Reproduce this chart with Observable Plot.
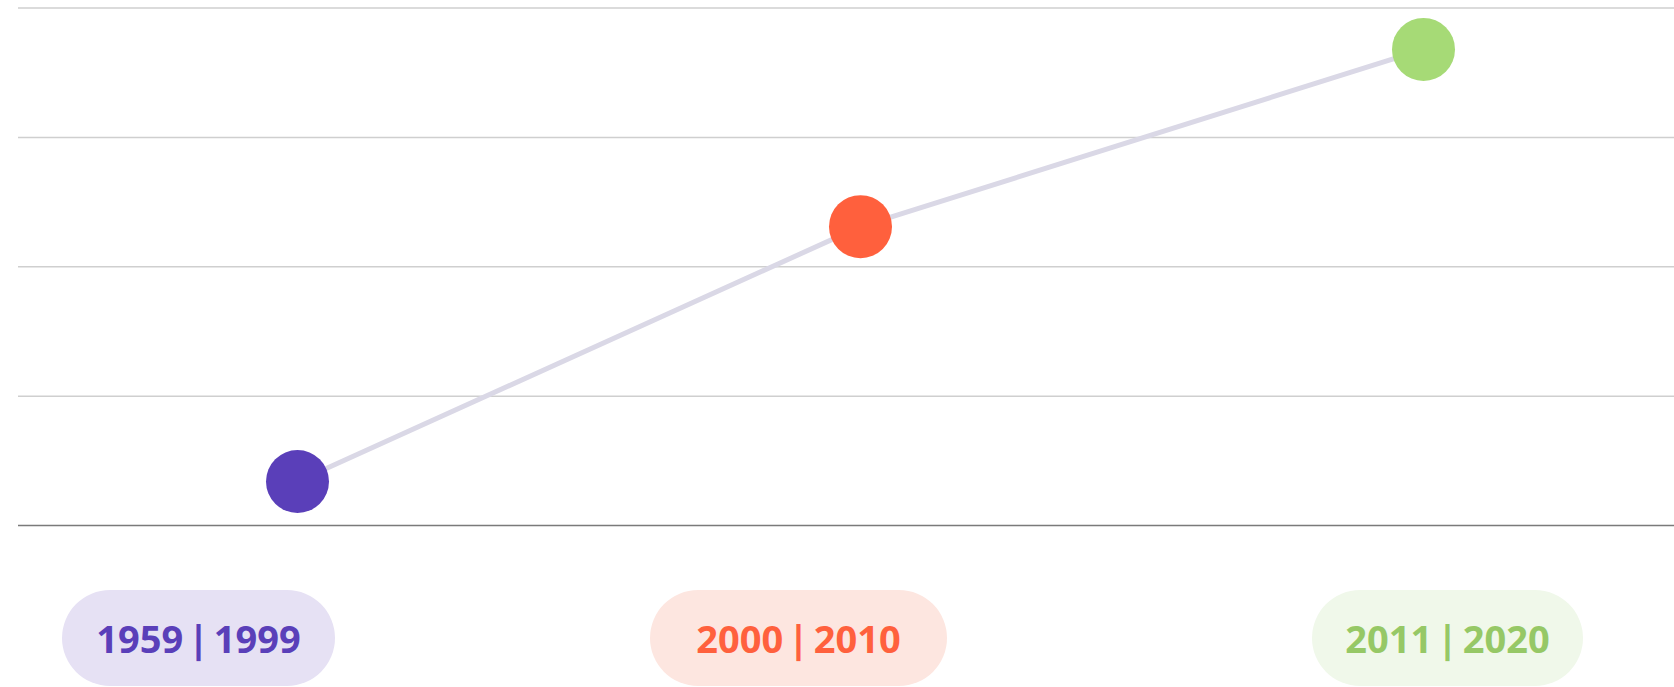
<!DOCTYPE html>
<html>
<head>
<meta charset="utf-8">
<script src="https://cdn.jsdelivr.net/npm/d3@7"></script>
<script src="https://cdn.jsdelivr.net/npm/@observablehq/plot@0.6"></script>
<style>
  html, body { margin: 0; padding: 0; background: #fff; width: 1674px; height: 687px; overflow: hidden; }
  #chart svg { display: block; }
  #pills { position: relative; height: 97px; width: 1674px; }
  .pill { position: absolute; top: 0; height: 96px; border-radius: 48px; display: flex; align-items: center; justify-content: center;
          font-family: "Open Sans", sans-serif; font-weight: 700; font-size: 38px; word-spacing: -5px; white-space: nowrap; }
</style>
</head>
<body>
<div id="chart"></div>
<div id="pills"></div>
<script>
const periods = ["1959 | 1999", "2000 | 2010", "2011 | 2020"];
const values = [34, 231, 368];
const dotColors = ["#5a3fb9", "#ff603d", "#a6da76"];
const textColors = ["#5a3fb9", "#ff603d", "#96c866"];
const pillColors = ["#e6e1f4", "#fde6e0", "#f0f8ea"];
const gridTicks = [100, 200, 300, 400];

const data = periods.map((p, i) => ({period: p, value: values[i], color: dotColors[i]}));

const chart = Plot.plot({
  width: 1674,
  height: 590,
  marginLeft: 18,
  marginRight: 0,
  marginTop: 7.5,
  marginBottom: 65,
  x: {type: "point", domain: periods, range: [296, 1423], padding: 0, axis: null},
  y: {domain: [0, 400], axis: null},
  marks: [
    Plot.ruleY(gridTicks, {stroke: "#cfcfcf", strokeWidth: 1.5}),
    Plot.ruleY([0], {stroke: "#7a7a7a", strokeWidth: 1.5}),
    Plot.line(data, {x: "period", y: "value", stroke: "#dad8e6", strokeWidth: 5}),
    Plot.dot(data, {x: "period", y: "value", r: 31.5, fill: "color", stroke: null})
  ]
});
document.getElementById("chart").appendChild(chart);

const pillLeft = [62, 650, 1312];
const pillWidth = [273, 297, 271];
const pills = document.getElementById("pills");
periods.forEach((p, i) => {
  const d = document.createElement("div");
  d.className = "pill";
  d.style.left = pillLeft[i] + "px";
  d.style.width = pillWidth[i] + "px";
  d.style.background = pillColors[i];
  d.style.color = textColors[i];
  d.textContent = p;
  pills.appendChild(d);
});
</script>
</body>
</html>
